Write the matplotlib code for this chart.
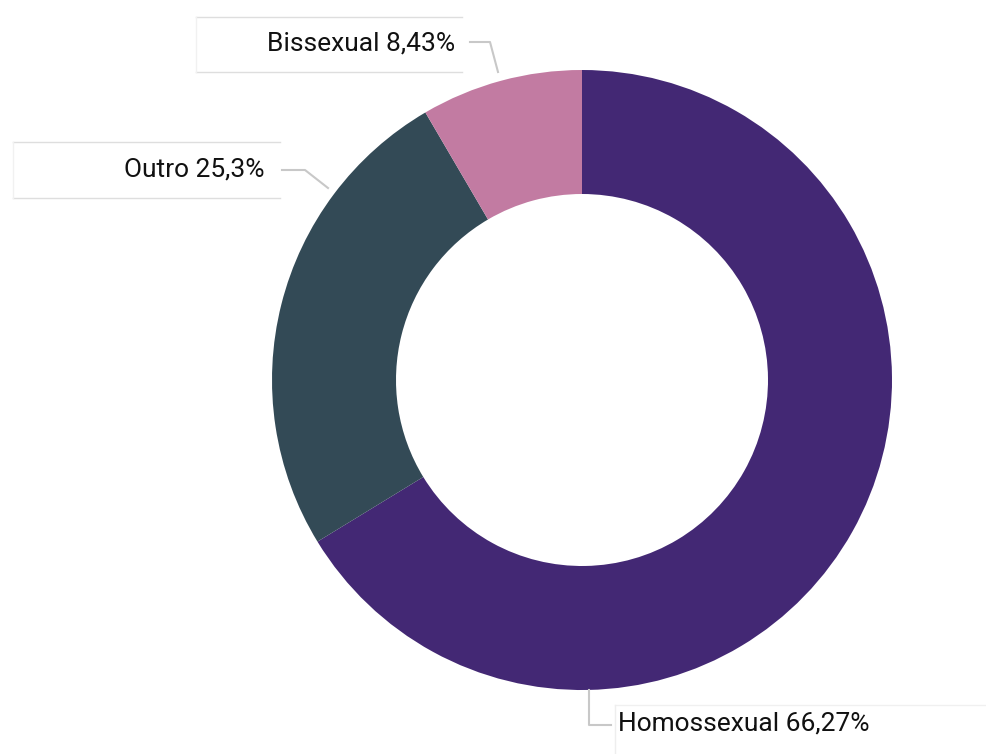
import matplotlib
matplotlib.use("Agg")
import matplotlib.pyplot as plt
from matplotlib.lines import Line2D

categories = ["Homossexual", "Outro", "Bissexual"]
values = [66.27, 25.3, 8.43]
value_labels = ["66,27%", "25,3%", "8,43%"]
colors = ["#432874", "#334A56", "#C27BA2"]

W, H = 987, 754
fig = plt.figure(figsize=(W / 100, H / 100), dpi=100)
fig.patch.set_facecolor("white")

# pie axes: centre (582,380) px, radius 310 px
cx, cy, r = 582, 380, 310
ax = fig.add_axes([(cx - r) / W, 1 - (cy + r) / H, 2 * r / W, 2 * r / H])
ax.pie(values, colors=colors, startangle=90, counterclock=False,
       wedgeprops=dict(width=0.4, edgecolor="none"), radius=1)
ax.set_xlim(-1, 1)
ax.set_ylim(-1, 1)
ax.axis("off")

def fx(x):
    return x / W

def fy(y):
    return 1 - y / H

font = dict(family=["Roboto", "DejaVu Sans"], fontsize=19, color="#111111")
lead_col = "#c8c8c8"

def seg(pts, color, lw=1.0, z=1):
    fig.add_artist(Line2D([fx(p[0]) for p in pts], [fy(p[1]) for p in pts],
                          transform=fig.transFigure, color=color,
                          linewidth=lw, zorder=z))

# label layout (pixel boxes)
layouts = {
    "Bissexual": dict(box=(196, 17, 462, 72), text=(455, 43), ha="right",
                      lead=[(470, 42), (490, 42), (498, 72)],
                      hcol="#dedede", vcol="#f1f1f1"),
    "Outro": dict(box=(13, 142, 280, 198), text=(265, 169), ha="right",
                  lead=[(282, 170), (305, 170), (328, 188)],
                  hcol="#dedede", vcol="#f1f1f1"),
    "Homossexual": dict(box=(615, 705, 990, 760), text=(618, 723), ha="left",
                        lead=[(589, 690), (589, 725), (611, 725)],
                        hcol="#f0f0f0", vcol="#eeeeee"),
}

for cat, lab in zip(categories, value_labels):
    L = layouts[cat]
    x0, y0, x1, y1 = L["box"]
    seg([(x0, y0), (x1, y0)], L["hcol"])
    seg([(x0, y1), (x1, y1)], L["hcol"])
    seg([(x0, y0), (x0, y1)], L["vcol"])
    tx, ty = L["text"]
    fig.text(fx(tx), fy(ty), f"{cat} {lab}", ha=L["ha"], va="center",
             zorder=3, **font)
    seg(L["lead"], lead_col, lw=1.5, z=2)

fig.savefig("out.png", dpi=100, facecolor="white")
